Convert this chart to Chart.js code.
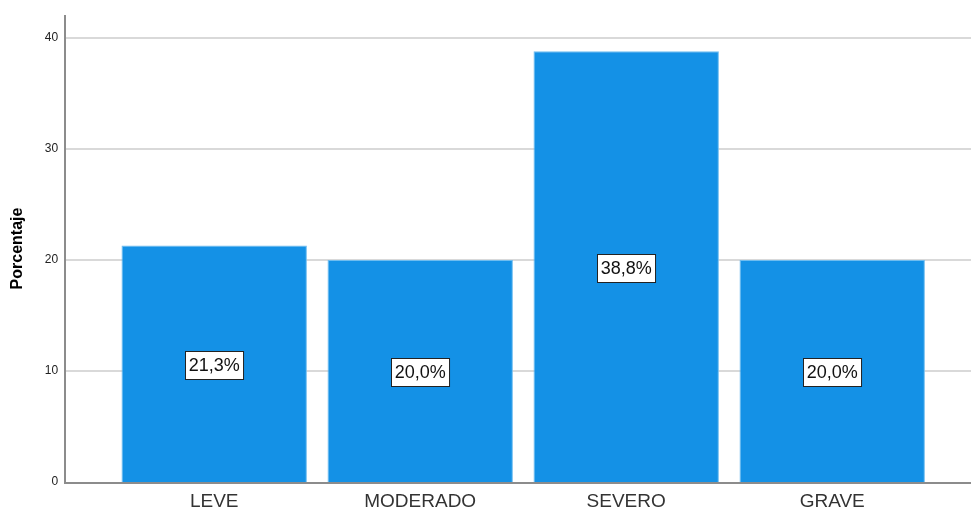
<!DOCTYPE html>
<html>
<head>
<meta charset="utf-8">
<script src="https://cdn.jsdelivr.net/npm/chart.js@4.4.1/dist/chart.umd.min.js"></script>
<style>
  body { margin: 0; background: #fff; }
  #wrap { width: 971px; height: 510px; }
</style>
</head>
<body>
<div id="wrap"><canvas id="chart" width="971" height="510"></canvas></div>
<script>
const categories = ['LEVE', 'MODERADO', 'SEVERO', 'GRAVE'];
const percentages = [21.3, 20.0, 38.8, 20.0];
const valueLabels = ['21,3%', '20,0%', '38,8%', '20,0%'];
const yTicks = [0, 10, 20, 30, 40];

const axisColor = '#8c8c8c';
const gridColor = '#d9d9d9';

// gridlines reach past the category area, so draw them by hand
const framePlugin = {
  id: 'frame',
  beforeDatasetsDraw(chart) {
    const ctx = chart.ctx;
    const y = chart.scales.y;
    const area = chart.chartArea;
    const axisX = 65;
    ctx.save();
    ctx.strokeStyle = gridColor;
    ctx.lineWidth = 2;
    yTicks.forEach(v => {
      if (v === 0) return;
      const py = Math.round(y.getPixelForValue(v));
      ctx.beginPath();
      ctx.moveTo(axisX, py);
      ctx.lineTo(chart.width, py);
      ctx.stroke();
    });
    ctx.strokeStyle = axisColor;
    ctx.beginPath();
    ctx.moveTo(axisX, area.top);
    ctx.lineTo(axisX, area.bottom + 1);
    ctx.lineTo(chart.width, area.bottom + 1);
    ctx.stroke();
    ctx.restore();
  },
  afterDatasetsDraw(chart) {
    const ctx = chart.ctx;
    const meta = chart.getDatasetMeta(0);
    const y = chart.scales.y;
    ctx.save();
    ctx.font = '18px "Liberation Sans", Arial, sans-serif';
    ctx.textAlign = 'center';
    ctx.textBaseline = 'middle';
    meta.data.forEach((bar, i) => {
      const cx = bar.x;
      const cy = y.getPixelForValue(percentages[i] / 2) + 1.5;
      const w = ctx.measureText(valueLabels[i]).width + 7;
      const h = 28;
      const bx = Math.round(cx - w / 2) + 0.5;
      const by = Math.round(cy - h / 2) + 0.5;
      ctx.fillStyle = '#ffffff';
      ctx.fillRect(bx, by, w, h);
      ctx.strokeStyle = '#222';
      ctx.lineWidth = 1;
      ctx.strokeRect(bx, by, w, h);
      ctx.fillStyle = '#111';
      ctx.fillText(valueLabels[i], cx, cy + 1);
    });
    ctx.restore();
  }
};

new Chart(document.getElementById('chart'), {
  type: 'bar',
  data: {
    labels: categories,
    datasets: [{
      data: percentages,
      backgroundColor: '#1491e6',
      borderColor: '#6fbdf0',
      borderWidth: { left: 1, right: 1, top: 1, bottom: 0 },
      categoryPercentage: 1,
      barPercentage: 0.9
    }]
  },
  options: {
    responsive: false,
    animation: false,
    layout: { padding: { top: 15, right: 35.8, bottom: 0, left: 0 } },
    plugins: {
      legend: { display: false },
      tooltip: { enabled: false }
    },
    scales: {
      x: {
        grid: { display: false, drawTicks: false },
        border: { display: false },
        ticks: {
          padding: 8,
          color: '#333',
          font: { family: '"Liberation Sans", Arial, sans-serif', size: 19 }
        },
        afterFit(s) { s.height = 28; s.paddingLeft = 0; s.paddingRight = 0; }
      },
      y: {
        min: 0,
        max: 42.07,
        grid: { display: false, drawTicks: false },
        border: { display: false },
        ticks: {
          stepSize: 10,
          includeBounds: false,
          padding: 53,
          color: '#222',
          font: { family: '"Liberation Sans", Arial, sans-serif', size: 12 }
        },
        title: {
          display: true,
          text: 'Porcentaje',
          color: '#000',
          padding: { top: 8.4, bottom: 0 },
          font: { family: '"Liberation Sans", Arial, sans-serif', size: 16, weight: 'bold' }
        },
        afterFit(s) { s.width = 111.2; s.paddingTop = 0; s.paddingBottom = 0; }
      }
    }
  },
  plugins: [framePlugin]
});
</script>
</body>
</html>
